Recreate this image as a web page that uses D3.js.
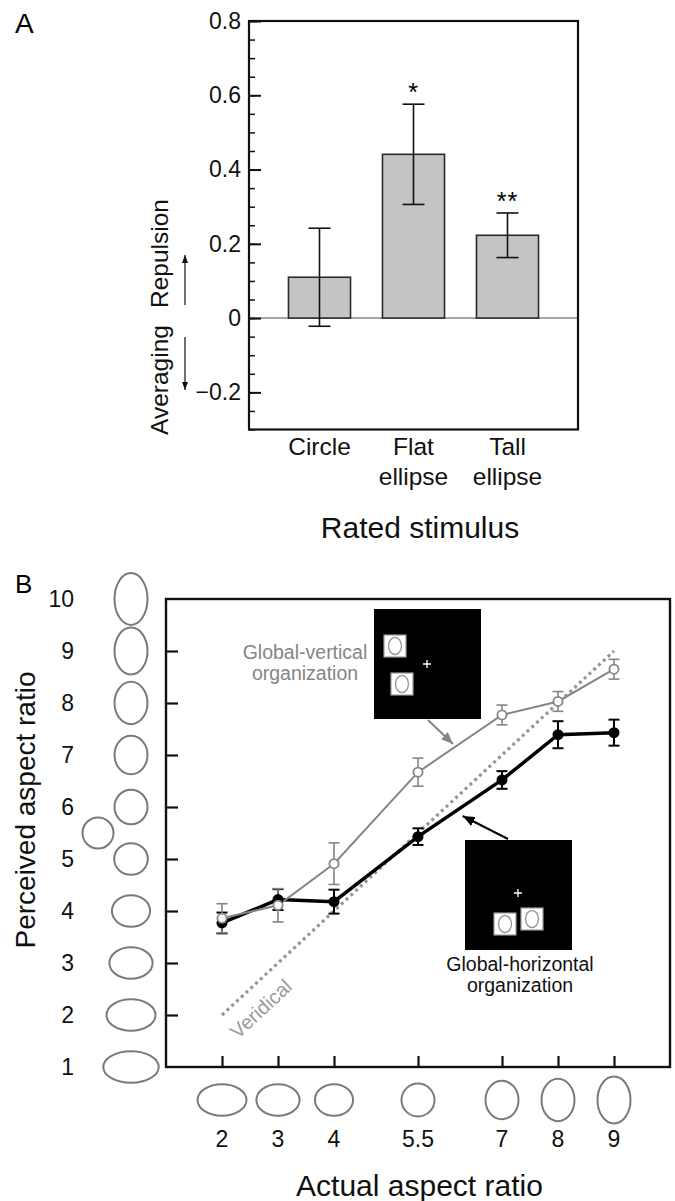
<html>
<head>
<meta charset="utf-8">
<title>Aspect ratio figure</title>
<style>
  body { margin: 0; background: #fff; }
  svg { display: block; }
  text { font-family: "Liberation Sans", Arial, Helvetica, sans-serif; }
</style>
</head>
<body>
<script src="https://d3js.org/d3.v7.min.js"></script>
<script>
// ---- panel A data ----
const categoriesA = ["Circle", "Flat ellipse", "Tall ellipse"];
const meanA = [0.11, 0.441, 0.223];
const errA = [0.132, 0.135, 0.06];
const starsA = ["", "*", "**"];
const majorTicksA = [-0.2, 0, 0.2, 0.4, 0.6, 0.8];
const minorTicksA = d3.range(-0.3, 0.8001, 0.05);

// ---- panel B data ----
const actualRatio = [2, 3, 4, 5.5, 7, 8, 9];
const verticalMean = [3.86, 4.11, 4.91, 6.67, 7.77, 8.03, 8.65];
const verticalErr = [0.28, 0.32, 0.4, 0.27, 0.19, 0.19, 0.19];
const horizontalMean = [3.77, 4.22, 4.18, 5.43, 6.52, 7.39, 7.43];
const horizontalErr = [0.2, 0.2, 0.23, 0.16, 0.17, 0.26, 0.25];
const veridicalEnds = [2, 9];
const yTicksB = [1, 2, 3, 4, 5, 6, 7, 8, 9, 10];

const GRAY = "#858585";
const GLYPH = "#7a7a7a";

const svg = d3.select("body").append("svg")
    .attr("width", 675).attr("height", 1201);
svg.append("rect").attr("width", 675).attr("height", 1201).attr("fill", "#fff");

const defs = svg.append("defs");
function marker(id, color, len, wid) {
    defs.append("marker")
        .attr("id", id)
        .attr("markerUnits", "userSpaceOnUse")
        .attr("viewBox", `0 ${-wid / 2} ${len} ${wid}`)
        .attr("refX", len).attr("refY", 0)
        .attr("markerWidth", len).attr("markerHeight", wid)
        .attr("orient", "auto")
        .append("path")
        .attr("d", `M0,${-wid / 2}L${len},0L0,${wid / 2}Z`)
        .attr("fill", color);
}
marker("headSmall", "#111", 8, 6);
marker("headGray", GRAY, 12, 10);
marker("headBlack", "#000", 12, 10);

// glyph shape for an aspect value (5.5 = circle)
function glyph(v) {
    const k = v < 5.5 ? 0.125 : 0.1;
    const r = Math.exp(k * (v - 5.5));
    return r < 1 ? { rx: 15.8 / r, ry: 15.8 } : { rx: 16.5, ry: 16.5 * r };
}

/* ================= PANEL A ================= */
const gA = svg.append("g");
const yA = d3.scaleLinear().domain([-0.3, 0.8]).range([429.5, 21]);
const xA = d3.scaleBand().domain(categoriesA).range([249, 578])
    .paddingInner(0.34).paddingOuter(0.42);

gA.append("text").attr("x", 15).attr("y", 33).attr("font-size", 28).text("A");

// zero line
gA.append("line")
    .attr("x1", 249).attr("x2", 578)
    .attr("y1", yA(0)).attr("y2", yA(0))
    .attr("stroke", "#8a8a8a").attr("stroke-width", 1.5);

// bars
gA.selectAll("rect.bar").data(categoriesA).enter().append("rect")
    .attr("class", "bar")
    .attr("x", d => xA(d))
    .attr("width", xA.bandwidth())
    .attr("y", (d, i) => yA(meanA[i]))
    .attr("height", (d, i) => yA(0) - yA(meanA[i]))
    .attr("fill", "#c4c4c4").attr("stroke", "#2a2a2a").attr("stroke-width", 1.6);

// error bars
const errG = gA.selectAll("g.err").data(categoriesA).enter().append("g")
    .attr("transform", d => `translate(${xA(d) + xA.bandwidth() / 2},0)`);
errG.append("line")
    .attr("y1", (d, i) => yA(meanA[i] + errA[i]))
    .attr("y2", (d, i) => yA(meanA[i] - errA[i]))
    .attr("stroke", "#111").attr("stroke-width", 1.6);
[1, -1].forEach(s => {
    errG.append("line")
        .attr("x1", -11).attr("x2", 11)
        .attr("y1", (d, i) => yA(meanA[i] + s * errA[i]))
        .attr("y2", (d, i) => yA(meanA[i] + s * errA[i]))
        .attr("stroke", "#111").attr("stroke-width", 1.6);
});
errG.append("text")
    .attr("text-anchor", "middle")
    .attr("y", (d, i) => yA(meanA[i] + errA[i]) - 3)
    .attr("font-size", 25).attr("letter-spacing", 1)
    .text((d, i) => starsA[i]);

// axes
gA.append("g").attr("transform", "translate(249,0)")
    .call(d3.axisLeft(yA).tickValues(minorTicksA).tickSize(-6).tickFormat(""))
    .call(g => g.select(".domain").remove())
    .call(g => g.selectAll("line").attr("stroke", "#111").attr("stroke-width", 1.5));
gA.append("g").attr("transform", "translate(249,0)")
    .call(d3.axisLeft(yA).tickValues(majorTicksA).tickSize(-12).tickPadding(8)
        .tickFormat(d => d === 0 ? "0" : d3.format(".1f")(d).replace("-", "\u2212")))
    .call(g => g.select(".domain").remove())
    .call(g => g.selectAll("line").attr("stroke", "#111").attr("stroke-width", 2))
    .call(g => g.selectAll("text").attr("font-size", 23).attr("fill", "#111")
        .attr("font-family", "Liberation Sans, Arial, sans-serif"));

gA.append("rect")
    .attr("x", 249).attr("y", 21).attr("width", 578 - 249).attr("height", 429.5 - 21)
    .attr("fill", "none").attr("stroke", "#111").attr("stroke-width", 2.2);

// x labels
const xl = gA.selectAll("text.xl").data(categoriesA).enter().append("text")
    .attr("text-anchor", "middle").attr("font-size", 24.5).attr("fill", "#111")
    .attr("transform", d => `translate(${xA(d) + xA.bandwidth() / 2},0)`);
xl.each(function (d) {
    d.split(" ").forEach((w, j) => {
        d3.select(this).append("tspan").attr("x", 0).attr("y", 455 + j * 30).text(w);
    });
});

gA.append("text").attr("x", 420).attr("y", 538).attr("text-anchor", "middle")
    .attr("font-size", 30).attr("fill", "#111").text("Rated stimulus");

// y label with arrows
gA.append("text").attr("transform", "translate(167.5,308) rotate(-90)")
    .attr("font-size", 24.5).attr("fill", "#111").text("Repulsion");
gA.append("text").attr("transform", "translate(167.5,435) rotate(-90)")
    .attr("font-size", 24.5).attr("fill", "#111").text("Averaging");
gA.append("line").attr("x1", 185).attr("x2", 185).attr("y1", 305).attr("y2", 255)
    .attr("stroke", "#111").attr("stroke-width", 1.2).attr("marker-end", "url(#headSmall)");
gA.append("line").attr("x1", 185).attr("x2", 185).attr("y1", 337).attr("y2", 390)
    .attr("stroke", "#111").attr("stroke-width", 1.2).attr("marker-end", "url(#headSmall)");

/* ================= PANEL B ================= */
const gB = svg.append("g");
const xB = d3.scaleLinear().domain([1, 10]).range([166, 670]);
const yB = d3.scaleLinear().domain([1, 10]).range([1067, 599]);

gB.append("text").attr("x", 15).attr("y", 593).attr("font-size", 26).text("B");

// y axis ticks (inward) and labels
gB.append("g").attr("transform", `translate(${xB(1)},0)`)
    .call(d3.axisLeft(yB).tickValues(yTicksB.slice(1, -1)).tickSize(-12).tickFormat(""))
    .call(g => g.select(".domain").remove())
    .call(g => g.selectAll("line").attr("stroke", "#111").attr("stroke-width", 2.2));
gB.selectAll("text.yl").data(yTicksB).enter().append("text")
    .attr("x", 74).attr("y", d => yB(d)).attr("dy", "0.36em")
    .attr("text-anchor", "end").attr("font-size", 23).attr("fill", "#111")
    .text(d => d);

// y glyph column
gB.selectAll("ellipse.yg").data(yTicksB).enter().append("ellipse")
    .attr("cx", 131).attr("cy", d => yB(d))
    .attr("rx", d => glyph(d).rx).attr("ry", d => glyph(d).ry)
    .attr("fill", "none").attr("stroke", GLYPH).attr("stroke-width", 2);
gB.append("circle").attr("cx", 98).attr("cy", yB(5.5)).attr("r", glyph(5.5).rx - 1)
    .attr("fill", "none").attr("stroke", GLYPH).attr("stroke-width", 2);

// x axis ticks (inward) and labels
gB.append("g").attr("transform", `translate(0,${yB(1)})`)
    .call(d3.axisBottom(xB).tickValues(actualRatio).tickSize(-11).tickFormat(""))
    .call(g => g.select(".domain").remove())
    .call(g => g.selectAll("line").attr("stroke", "#111").attr("stroke-width", 2.2));
gB.selectAll("text.xl").data(actualRatio).enter().append("text")
    .attr("x", d => xB(d)).attr("y", 1147)
    .attr("text-anchor", "middle").attr("font-size", 23).attr("fill", "#111")
    .text(d => d);
gB.selectAll("ellipse.xg").data(actualRatio).enter().append("ellipse")
    .attr("cx", d => xB(d)).attr("cy", 1100)
    .attr("rx", d => glyph(d).rx).attr("ry", d => glyph(d).ry)
    .attr("fill", "none").attr("stroke", GLYPH).attr("stroke-width", 2);

// frame
gB.append("rect")
    .attr("x", xB(1)).attr("y", yB(10))
    .attr("width", xB(10) - xB(1)).attr("height", yB(1) - yB(10))
    .attr("fill", "none").attr("stroke", "#111").attr("stroke-width", 2.4);

// titles
gB.append("text").attr("x", 419.5).attr("y", 1196).attr("text-anchor", "middle")
    .attr("font-size", 30).attr("fill", "#111").text("Actual aspect ratio");
gB.append("text").attr("transform", "translate(35,810) rotate(-90)")
    .attr("text-anchor", "middle").attr("font-size", 28).attr("fill", "#111")
    .text("Perceived aspect ratio");

// veridical
gB.append("line")
    .attr("x1", xB(veridicalEnds[0])).attr("y1", yB(veridicalEnds[0]))
    .attr("x2", xB(veridicalEnds[1])).attr("y2", yB(veridicalEnds[1]))
    .attr("stroke", "#959595").attr("stroke-width", 3.2)
    .attr("stroke-dasharray", "3,3.5");
const vAng = Math.atan2(yB(9) - yB(2), xB(9) - xB(2)) * 180 / Math.PI;
gB.append("text")
    .attr("transform", `translate(${xB(2.78)},${yB(2.02)}) rotate(${vAng})`)
    .attr("text-anchor", "middle").attr("font-size", 20).attr("fill", "#9a9a9a")
    .text("Veridical");

// series
const line = d3.line().x(d => xB(d[0])).y(d => yB(d[1]));
const vPts = actualRatio.map((a, i) => [a, verticalMean[i], verticalErr[i]]);
const hPts = actualRatio.map((a, i) => [a, horizontalMean[i], horizontalErr[i]]);

function errorBars(pts, color, w) {
    const g = gB.append("g");
    pts.forEach(p => {
        g.append("line").attr("x1", xB(p[0])).attr("x2", xB(p[0]))
            .attr("y1", yB(p[1] + p[2])).attr("y2", yB(p[1] - p[2]))
            .attr("stroke", color).attr("stroke-width", w);
        [1, -1].forEach(s => {
            g.append("line").attr("x1", xB(p[0]) - 5.5).attr("x2", xB(p[0]) + 5.5)
                .attr("y1", yB(p[1] + s * p[2])).attr("y2", yB(p[1] + s * p[2]))
                .attr("stroke", color).attr("stroke-width", w);
        });
    });
}

gB.append("path").datum(hPts).attr("d", line)
    .attr("fill", "none").attr("stroke", "#000").attr("stroke-width", 3.5);
gB.append("path").datum(vPts).attr("d", line)
    .attr("fill", "none").attr("stroke", GRAY).attr("stroke-width", 2);
errorBars(hPts, "#000", 2);
errorBars(vPts, GRAY, 1.6);
gB.selectAll("circle.h").data(hPts).enter().append("circle")
    .attr("cx", d => xB(d[0])).attr("cy", d => yB(d[1])).attr("r", 5.5)
    .attr("fill", "#000");
gB.selectAll("circle.v").data(vPts).enter().append("circle")
    .attr("cx", d => xB(d[0])).attr("cy", d => yB(d[1])).attr("r", 4.6)
    .attr("fill", "#fff").attr("stroke", GRAY).attr("stroke-width", 1.8);

// insets
function inset(x, y, squares, plus) {
    const g = gB.append("g");
    g.append("rect").attr("x", x).attr("y", y).attr("width", 107).attr("height", 110)
        .attr("fill", "#000");
    squares.forEach(s => {
        g.append("rect").attr("x", x + s[0]).attr("y", y + s[1])
            .attr("width", 22).attr("height", 22)
            .attr("fill", "#fff").attr("stroke", "#9a9a9a").attr("stroke-width", 1.2);
        g.append("ellipse").attr("cx", x + s[0] + 11).attr("cy", y + s[1] + 11)
            .attr("rx", 6.5).attr("ry", 8.5)
            .attr("fill", "none").attr("stroke", "#9a9a9a").attr("stroke-width", 1.4);
    });
    g.append("path")
        .attr("d", `M${x + plus[0] - 4},${y + plus[1]}h8M${x + plus[0]},${y + plus[1] - 4}v8`)
        .attr("stroke", "#fff").attr("stroke-width", 1.3);
}
inset(374, 609, [[10, 26], [17, 64]], [53, 55]);
inset(465, 840, [[29, 73], [56, 68]], [53, 53]);

// arrows
gB.append("line").attr("x1", 428).attr("y1", 720).attr("x2", 453).attr("y2", 744)
    .attr("stroke", GRAY).attr("stroke-width", 2).attr("marker-end", "url(#headGray)");
gB.append("line").attr("x1", 508).attr("y1", 839).attr("x2", 462.7).attr("y2", 816)
    .attr("stroke", "#000").attr("stroke-width", 2).attr("marker-end", "url(#headBlack)");

// inset captions
const cap1 = gB.append("text").attr("text-anchor", "middle").attr("font-size", 19.5).attr("fill", GRAY);
cap1.append("tspan").attr("x", 305).attr("y", 659).text("Global-vertical");
cap1.append("tspan").attr("x", 305).attr("y", 680).text("organization");
const cap2 = gB.append("text").attr("text-anchor", "middle").attr("font-size", 19.5).attr("fill", "#111");
cap2.append("tspan").attr("x", 520).attr("y", 971).text("Global-horizontal");
cap2.append("tspan").attr("x", 520).attr("y", 992).text("organization");
</script>
</body>
</html>
